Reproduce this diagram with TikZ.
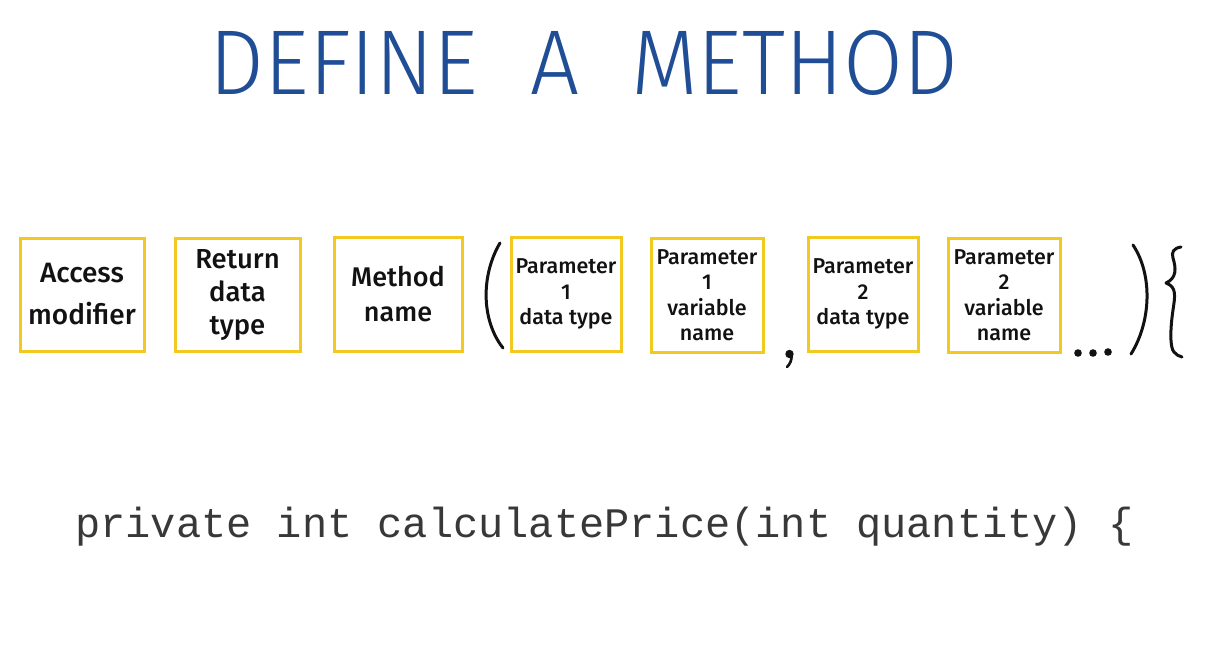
\documentclass[tikz,border=0pt]{standalone}
\usepackage{fontspec}
\setmainfont{Fira Sans}
\newfontfamily\codefont{Liberation Mono}
\IfFontExistsTF{Fira Sans Light}{\newfontfamily\titlefont{Fira Sans Light}}{\newfontfamily\titlefont{Fira Sans}}
\IfFontExistsTF{Fira Sans Medium}{\newfontfamily\boxfont{Fira Sans Medium}}{\newfontfamily\boxfont[FakeBold=0.5]{Fira Sans}}
\definecolor{boxyellow}{HTML}{F2C91E}
\definecolor{titleblue}{HTML}{1F4D96}
\definecolor{inkblack}{HTML}{121212}
\definecolor{codegray}{HTML}{383838}
\tikzset{
  partbox/.style={draw=boxyellow, line width=3pt, fill=white, align=center,
    text=inkblack, inner sep=0pt},
  bigtext/.style={font=\boxfont\fontsize{28}{42}\selectfont},
  midtext/.style={font=\boxfont\fontsize{27.5}{33}\selectfont},
  nametext/.style={font=\boxfont\fontsize{27}{35}\selectfont},
  smalltext/.style={font=\boxfont\fontsize{21.5}{25.5}\selectfont},
  ink/.style={draw=inkblack, line width=3pt, line cap=round, line join=round}
}
\begin{document}
\begin{tikzpicture}[x=1pt,y=-1pt]
\useasboundingbox[fill=white] (0,0) rectangle (1221,672);
% title
\node[text=titleblue, inner sep=0pt] (title) at (584,62.5)
  {\resizebox{748pt}{64pt}{\titlefont DEFINE\hspace{0.6em}A\hspace{0.6em}METHOD}};
% boxes
\node[partbox, bigtext, minimum width=124pt, minimum height=113pt] (access) at (82,294.5) {Access\\modifier};
\node[partbox, midtext, minimum width=125pt, minimum height=113pt] (ret) at (237.5,294.5) {Return\\data\\type};
\node[partbox, nametext, minimum width=128pt, minimum height=114pt] (mname) at (398,294) {Method\\name};
\node[partbox, smalltext, minimum width=110pt, minimum height=114pt] (p1type) at (566,294) {Parameter\\1\\data type};
\node[partbox, smalltext, minimum width=112pt, minimum height=114pt] (p1name) at (707,295) {Parameter\\1\\variable\\name};
\node[partbox, smalltext, minimum width=110pt, minimum height=114pt] (p2type) at (863,294) {Parameter\\2\\data type};
\node[partbox, smalltext, minimum width=112pt, minimum height=114pt] (p2name) at (1004,295) {Parameter\\2\\variable\\name};
% parentheses, comma, dots, brace
\draw[ink] (500,243) .. controls (481,275) and (481,320) .. (503,348);
\draw[ink] (1133,245) .. controls (1153,275) and (1151,322) .. (1131,354);
\fill[inkblack] (789.5,354) circle (4.2pt);
\draw[ink, line width=2.6pt] (791.5,355) .. controls (792,360) and (790,364) .. (787,367);
\fill[inkblack] (1078,353) circle (3.8pt);
\fill[inkblack] (1093,353) circle (3.8pt);
\fill[inkblack] (1108,352) circle (3.8pt);
\draw[ink] (1181,247) .. controls (1174,248) and (1171,252) .. (1173,258)
  .. controls (1176,268) and (1177,278) .. (1166,283)
  .. controls (1177,287) and (1175,296) .. (1173,310)
  .. controls (1170,330) and (1170,348) .. (1174,352)
  .. controls (1176,355) and (1179,356) .. (1182,357);
% code line
\node[anchor=base west, inner sep=0pt, text=codegray, font=\codefont\fontsize{42}{48}\selectfont] (code) at (75,537)
  {private int calculatePrice(int quantity) \{};
\end{tikzpicture}
\end{document}
